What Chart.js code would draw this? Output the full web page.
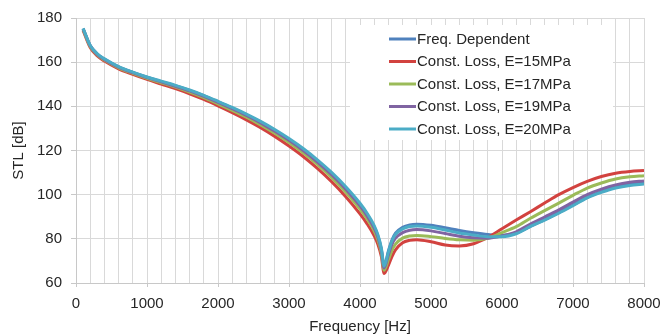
<!DOCTYPE html>
<html>
<head>
<meta charset="utf-8">
<script src="https://cdn.jsdelivr.net/npm/chart.js@4/dist/chart.umd.min.js"></script>
<style>
html,body{margin:0;padding:0;background:#fff;}
#wrap{width:662px;height:336px;position:relative;}
</style>
</head>
<body>
<div id="wrap"><canvas id="c" width="662" height="336"></canvas></div>
<script>
const freqs = [100,200,300,400,600,800,1000,1200,1400,1600,1800,2000,2200,2400,2600,2800,3000,3200,3400,3600,3800,4000,4100,4200,4250,4300,4340,4400,4450,4500,4600,4700,4800,5000,5200,5400,5600,5800,6000,6200,6400,6600,6800,7000,7200,7400,7600,7800,8000];

const freqDependent = [175.2,167.5,163.7,161.4,157.9,155.4,153.2,151.2,149.3,147.2,144.8,142.0,139.2,136.2,132.9,129.1,125.0,120.5,115.3,109.6,103.1,95.5,91.0,85.4,81.5,75.4,67.8,74.5,79.5,82.6,85.2,86.3,86.6,86.1,85,83.8,82.8,82,81.6,82.6,85.6,88.7,91.9,95.3,98.8,101.4,103.4,104.7,105.3];
const constE15 = [174.4,166.65,162.8,160.5,157.0,154.5,152.2,150.1,148.0,145.7,143.1,140.2,137.15,133.9,130.35,126.4,122.05,117.3,111.9,105.9,99.1,91.3,86.8,81.4,77.7,72.1,64.3,68,72,75,78.2,79.3,79.6,78.7,77.2,76.8,77.8,80.6,84.6,88.5,92.3,96.2,100,103.2,106,108.2,109.7,110.5,110.9];
const constE17 = [174.8,167.1,163.25,160.95,157.45,154.95,152.7,150.7,148.7,146.5,144.0,141.1,138.2,135.1,131.6,127.8,123.6,118.9,113.7,107.8,101.1,93.5,89.0,83.5,79.6,73.8,65.8,70.5,74.8,77.6,80.3,81.3,81.5,81,80.2,79.6,79.4,80.2,82.8,85.5,89.3,92.8,96.2,99.7,103,105.3,107.1,108.1,108.6];
const constE19 = [175.1,167.4,163.55,161.25,157.75,155.25,153.0,151.1,149.1,147.0,144.5,141.8,138.9,135.85,132.5,128.7,124.6,120.0,114.8,109.05,102.5,94.9,90.4,84.85,80.9,74.95,66.8,72.8,77.5,80.3,82.8,83.9,84.2,83.6,82.4,81.2,80.5,80.3,81.3,83.2,86.7,89.9,93.1,96.6,100,102.5,104.4,105.6,106.2];
const constE20 = [175.3,167.6,163.8,161.5,158.0,155.5,153.3,151.4,149.5,147.4,145.0,142.3,139.5,136.5,133.2,129.5,125.4,120.9,115.8,110.1,103.6,96.1,91.6,86.0,82.0,75.9,67.6,74,79,82,84.5,85.6,85.8,85.2,84,82.6,81.7,81,81,82.3,85.6,88.5,91.6,95,98.5,101,103,104.2,104.8];

const seriesLabels = ["Freq. Dependent","Const. Loss, E=15MPa","Const. Loss, E=17MPa","Const. Loss, E=19MPa","Const. Loss, E=20MPa"];
const seriesValues = [freqDependent, constE15, constE17, constE19, constE20];
const seriesColors = ["#4F81BD","#D2423F","#9BBB59","#8064A2","#4BACC6"];
const xTickLabels = [0,1000,2000,3000,4000,5000,6000,7000,8000];
const yTicks = [60,80,100,120,140,160,180];

const FONT = "'Liberation Sans', Arial, sans-serif";
const TXT = "#262626";

const datasets = seriesLabels.map((lab,i)=>({
  label: lab,
  data: freqs.map((f,j)=>({x:f,y:seriesValues[i][j]})),
  borderColor: seriesColors[i],
  backgroundColor: seriesColors[i],
  borderWidth: 3,
  pointRadius: 0,
  fill: false,
  cubicInterpolationMode: 'monotone',
  order: seriesLabels.length - 1 - i
}));

const insideLegend = {
  id: 'insideLegend',
  afterDraw(chart){
    const ctx = chart.ctx, a = chart.chartArea;
    const bx = a.left + 274, by = a.top + 7, bw = 263, bh = 115;
    ctx.save();
    ctx.fillStyle = '#fff';
    ctx.fillRect(bx, by, bw, bh);
    ctx.font = "15px " + FONT;
    ctx.textBaseline = 'middle';
    ctx.textAlign = 'left';
    chart.data.datasets.forEach((ds,i)=>{
      const y = a.top + 21 + i*22.5;
      ctx.strokeStyle = ds.borderColor;
      ctx.lineWidth = 3;
      ctx.beginPath();
      ctx.moveTo(a.left + 313, y);
      ctx.lineTo(a.left + 340, y);
      ctx.stroke();
      ctx.fillStyle = TXT;
      ctx.fillText(ds.label, a.left + 341, y + 0.5);
    });
    ctx.restore();
  }
};

new Chart(document.getElementById('c'), {
  type: 'line',
  data: { datasets },
  options: {
    responsive: false,
    animation: false,
    devicePixelRatio: 1,
    layout: { padding: { left: 0, right: 18, top: 18, bottom: 0 } },
    plugins: { legend: { display: false }, tooltip: { enabled: false } },
    scales: {
      x: {
        type: 'linear',
        min: 0, max: 8000,
        afterBuildTicks(axis){
          const t = [];
          for (let v = 0; v <= 8000; v += 200) t.push({value: v});
          axis.ticks = t;
        },
        ticks: {
          autoSkip: false, maxRotation: 0, padding: 8,
          color: TXT, font: { family: FONT, size: 15 },
          callback: (v)=> xTickLabels.includes(v) ? String(v) : ''
        },
        grid: {
          color: '#d9d9d9', lineWidth: 1, tickLength: 4,
          tickColor: (c)=> (c.tick && c.tick.value % 1000 === 0) ? '#c8c8c8' : 'rgba(0,0,0,0)'
        },
        border: { color: '#c8c8c8' },
        title: { display: true, text: 'Frequency [Hz]', color: TXT, font: { family: FONT, size: 15 }, padding: { top: 3, bottom: 0 } },
        afterFit(axis){ axis.height = 53; axis.paddingLeft = 0; axis.paddingRight = 0; }
      },
      y: {
        min: 60, max: 180,
        afterBuildTicks(axis){ axis.ticks = yTicks.map(v=>({value:v})); },
        ticks: { color: TXT, font: { family: FONT, size: 15 }, padding: 9 },
        grid: { color: '#d9d9d9', lineWidth: 1, tickLength: 5, tickColor: '#c8c8c8' },
        border: { color: '#c8c8c8' },
        title: { display: true, text: 'STL [dB]', color: TXT, font: { family: FONT, size: 15 }, padding: { top: 10, bottom: 0 } },
        afterFit(axis){ axis.width = 76; axis.paddingTop = 0; axis.paddingBottom = 0; }
      }
    }
  },
  plugins: [insideLegend]
});
</script>
</body>
</html>
